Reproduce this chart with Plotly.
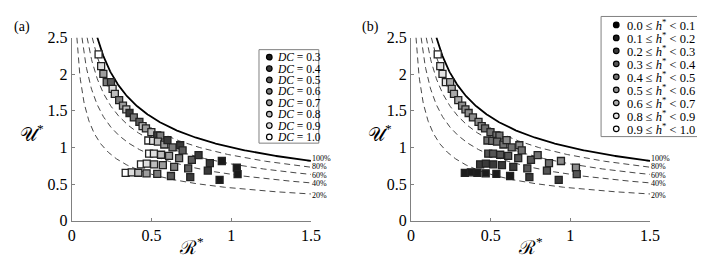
import numpy as np
import plotly.graph_objects as go

# ---------------- data ----------------
R_star = [0.168, 0.184, 0.198, 0.219, 0.246, 0.256, 0.270, 0.297, 0.321, 0.342,
          0.362, 0.389, 0.424, 0.444, 0.465, 0.499, 0.536, 0.555,
          0.480, 0.510, 0.540, 0.580, 0.600, 0.632, 0.680, 0.695,
          0.485, 0.515, 0.560, 0.610, 0.673, 0.753, 0.795, 0.866, 0.941,
          0.434, 0.470, 0.516, 0.571, 0.642, 0.730, 0.853, 1.035, 1.040,
          0.338, 0.376, 0.417, 0.469, 0.536, 0.622, 0.743, 0.927]
U_star = [2.27, 2.11, 2.005, 1.89, 1.89, 1.80, 1.73, 1.645, 1.57, 1.52,
          1.47, 1.41, 1.35, 1.29, 1.26, 1.21, 1.165, 1.16,
          1.095, 1.09, 1.08, 1.04, 1.10, 1.00, 1.03, 0.96,
          0.915, 0.915, 0.90, 0.885, 0.855, 0.83, 0.895, 0.785, 0.815,
          0.77, 0.78, 0.77, 0.76, 0.735, 0.715, 0.685, 0.725, 0.635,
          0.652, 0.66, 0.655, 0.647, 0.64, 0.61, 0.596, 0.558]
DC = [1.0, 0.9, 0.7, 0.6, 0.5, 0.9, 0.8, 0.6, 0.7, 0.8,
      0.4, 0.6, 0.5, 0.8, 0.7, 0.8, 0.4, 0.6,
      1.0, 0.9, 0.8, 0.7, 0.4, 0.6, 0.4, 0.5,
      1.0, 0.9, 0.8, 0.7, 0.6, 0.5, 0.4, 0.4, 0.3,
      1.0, 0.9, 0.8, 0.7, 0.6, 0.5, 0.4, 0.3, 0.3,
      1.0, 0.9, 0.8, 0.7, 0.6, 0.5, 0.4, 0.3]
h_bin = [0.9, 0.8, 0.8, 0.8, 0.6, 0.6, 0.6, 0.6, 0.5, 0.5,
         0.5, 0.5, 0.5, 0.5, 0.4, 0.4, 0.4, 0.4,
         0.4, 0.4, 0.4, 0.4, 0.5, 0.4, 0.5, 0.4,
         0.3, 0.3, 0.3, 0.3, 0.3, 0.3, 0.4, 0.4, 0.5,
         0.2, 0.2, 0.2, 0.2, 0.2, 0.3, 0.3, 0.5, 0.3,
         0.1, 0.1, 0.1, 0.1, 0.1, 0.1, 0.2, 0.2]

DC_levels = [0.3, 0.4, 0.5, 0.6, 0.7, 0.8, 0.9, 1.0]
h_levels = [0.0, 0.1, 0.2, 0.3, 0.4, 0.5, 0.6, 0.8, 0.9]
h_upper = [0.1, 0.2, 0.3, 0.4, 0.5, 0.6, 0.7, 0.9, 1.0]
pct_levels = [20, 40, 60, 80, 100]

x_ticks = [0, 0.5, 1, 1.5]
y_ticks = [0, 0.5, 1, 1.5, 2, 2.5]

W, H = 705, 261
FONT = "Liberation Serif, DejaVu Serif, serif"


def gray(level):
    v = int(round(255 * max(0.0, min(1.0, level))))
    return f"rgb({v},{v},{v})"


def dc_color(d):
    return gray(0.1 + 0.9 * (d - 0.3) / 0.7)


def h_color(h):
    return gray(h / 0.9)


fig = go.Figure()

# theory curves U* = sqrt(p / R*)
for ax in ["1", "2"]:
    xa = "x" if ax == "1" else "x2"
    ya = "y" if ax == "1" else "y2"
    for p in pct_levels:
        f = p / 100.0
        r = np.linspace(f / 2.5 ** 2, 1.5, 400)
        u = np.sqrt(f / r)
        if p == 100:
            line = dict(color="black", width=1.8)
        else:
            line = dict(color="#333333", width=0.9, dash="6px,4px")
        fig.add_trace(go.Scatter(x=r, y=u, mode="lines", line=line,
                                 xaxis=xa, yaxis=ya, showlegend=False,
                                 hoverinfo="skip"))

# data markers
fig.add_trace(go.Scatter(
    x=R_star, y=U_star, mode="markers", xaxis="x", yaxis="y", showlegend=False,
    marker=dict(symbol="square", size=7, color=[dc_color(d) for d in DC],
                line=dict(color="#222222", width=1.3))))
fig.add_trace(go.Scatter(
    x=R_star, y=U_star, mode="markers", xaxis="x2", yaxis="y2", showlegend=False,
    marker=dict(symbol="square", size=7, color=[h_color(h) for h in h_bin],
                line=dict(color="#222222", width=1.3))))

axis_common = dict(range=[0, 1.5], showline=True, linecolor="#808080", linewidth=1,
                   ticks="inside", ticklen=3, tickcolor="#808080", showgrid=False,
                   zeroline=False, tickfont=dict(family=FONT, size=16, color="black"),
                   mirror=False)
yd = [1 - 219 / H, 1 - 23 / H]
fig.update_layout(
    width=W, height=H, margin=dict(l=0, r=0, t=0, b=0),
    paper_bgcolor="white", plot_bgcolor="white",
    xaxis=dict(axis_common, domain=[61 / W, 305 / W], tickvals=x_ticks, anchor="y"),
    yaxis=dict(axis_common, range=[0, 2.5], domain=yd, tickvals=y_ticks, anchor="x"),
    xaxis2=dict(axis_common, domain=[407 / W, 651 / W], tickvals=x_ticks, anchor="y2"),
    yaxis2=dict(axis_common, range=[0, 2.5], domain=yd, tickvals=y_ticks, anchor="x2"),
)
fig.update_xaxes(tickvals=x_ticks, ticktext=[f"{v:g}" for v in x_ticks])
fig.update_yaxes(tickvals=y_ticks, ticktext=[f"{v:g}" for v in y_ticks])

ann = []
shapes = []

# percentage labels (pixel offsets downward)
label_shift = {100: -2.5, 80: -0.5, 60: 0.8, 40: 0.5, 20: 1.5}
for xa, ya in [("x", "y"), ("x2", "y2")]:
    for p in pct_levels:
        ann.append(dict(x=1.5, y=np.sqrt(p / 100 / 1.5), xref=xa, yref=ya,
                        text=f"{p}%", showarrow=False, xanchor="left", yanchor="middle",
                        xshift=0, yshift=-label_shift[p], borderpad=0,
                        font=dict(family=FONT, size=8, color="black")))

# axis titles and panel labels
for x0, xc, lab in [(0, 183, "(a)"), (355, 529, "(b)")]:
    ann.append(dict(x=(x0 + 0) / W, y=1 - 1 / H, xref="paper", yref="paper", text=lab,
                    showarrow=False, xanchor="left", yanchor="top",
                    font=dict(family=FONT, size=14, color="black")))
    ann.append(dict(x=xc / W, y=1 - 246 / H, xref="paper", yref="paper",
                    text="ℛ<sup>*</sup>", showarrow=False, xanchor="center",
                    yanchor="middle", font=dict(family=FONT, size=19, color="black")))
    ann.append(dict(x=(x0 + 20) / W, y=1 - 125 / H, xref="paper", yref="paper",
                    text="𝒰<sup>*</sup>", showarrow=False, xanchor="center",
                    yanchor="middle", font=dict(family=FONT, size=19, color="black")))


def legend(box, cx, tx, y0, dy, labels, colors, fsize):
    shapes.append(dict(type="rect", xref="paper", yref="paper",
                       x0=box[0] / W, x1=box[1] / W, y0=1 - box[3] / H, y1=1 - box[2] / H,
                       line=dict(color="#808080", width=1), fillcolor="white"))
    for i, (lab, col) in enumerate(zip(labels, colors)):
        yy = 1 - (y0 + i * dy) / H
        shapes.append(dict(type="circle", xref="paper", yref="paper",
                           xsizemode="pixel", ysizemode="pixel",
                           xanchor=cx / W, yanchor=yy, x0=-2.8, x1=2.8, y0=-2.8, y1=2.8,
                           line=dict(color="black", width=1.2), fillcolor=col))
        ann.append(dict(x=tx / W, y=yy, xref="paper", yref="paper", text=lab,
                        showarrow=False, xanchor="left", yanchor="middle",
                        font=dict(family=FONT, size=fsize, color="black")))


legend((252, 313, 36, 136), 262.5, 268, 44, 12.2,
       [f"<i>DC</i> = {d:.1f}" for d in DC_levels],
       [dc_color(d) for d in DC_levels], 11.5)
legend((601, 704, 0.5, 129), 616.5, 625, 9.5, 13.9,
       [f"{a:.1f} ≤ <i>h</i><sup>*</sup> &lt; {b:.1f}" for a, b in zip(h_levels, h_upper)],
       [h_color(h) for h in h_levels], 12.5)

fig.update_layout(annotations=ann, shapes=shapes)
fig.write_html("out.html")
